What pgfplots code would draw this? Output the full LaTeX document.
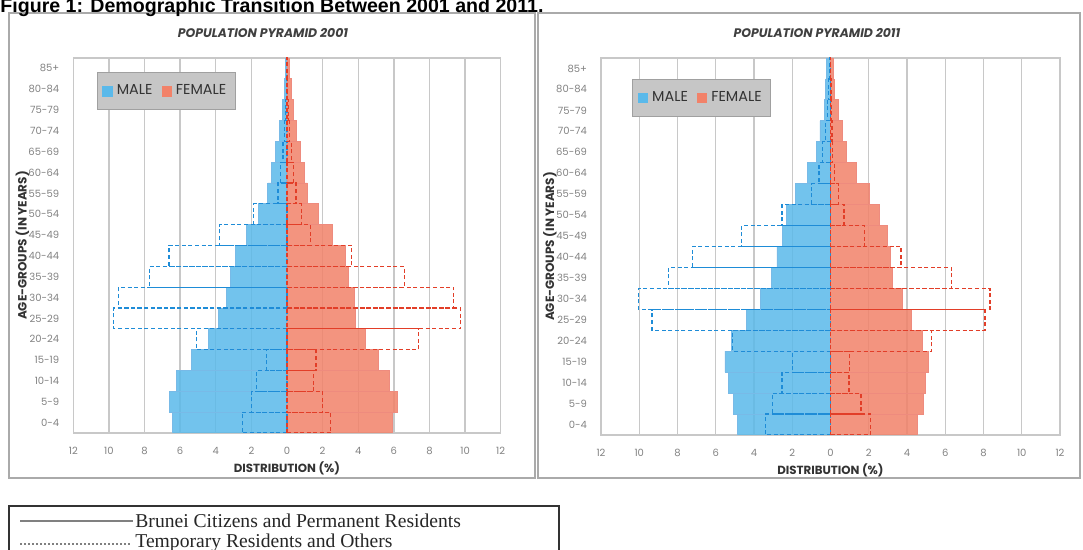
\documentclass[border=0pt]{standalone}
\usepackage{fontspec}
\usepackage{pgfplots}
\pgfplotsset{compat=1.18}
\setmainfont{Poppins}
\newfontfamily\titlefont{Liberation Sans}
\newfontfamily\seriffont{Liberation Serif}

\definecolor{malefill}{RGB}{90,185,234}
\definecolor{femfill}{RGB}{242,130,105}
\definecolor{maleline}{RGB}{30,140,215}
\definecolor{femline}{RGB}{226,62,40}
\definecolor{gridc}{RGB}{200,200,200}
\definecolor{tickc}{RGB}{130,130,130}
\definecolor{legfill}{RGB}{198,198,198}
\definecolor{legdraw}{RGB}{160,160,160}
\definecolor{panel}{RGB}{170,170,170}

\pgfplotsset{
  pyr/.style={
    scale only axis,
    xmin=-12, xmax=12, ymin=-0.5, ymax=17.5,
    xtick={-12,-10,...,12},
    xticklabels={12,10,8,6,4,2,0,2,4,6,8,10,12},
    ytick={0,...,17},
    yticklabels={0-4,5-9,10-14,15-19,20-24,25-29,30-34,35-39,40-44,45-49,50-54,55-59,60-64,65-69,70-74,75-79,80-84,85+},
    xmajorgrids, major grid style={draw=gridc, line width=0.7pt},
    axis line style={draw=gridc, line width=0.7pt},
    tick style={draw=none},
    ticklabel style={font=\fontsize{5}{6}\selectfont, text=tickc},
    yticklabel style={xshift=-3.5pt},
    xticklabel style={yshift=-3.5pt},
    xlabel={DISTRIBUTION (\%)},
    ylabel={AGE-GROUPS (IN YEARS)},
    every axis x label/.style={at={(axis description cs:0.5,0)}, anchor=center, yshift=-17.5pt, font=\bfseries\fontsize{5.9}{7}\selectfont, text=black!80},
    every axis y label/.style={at={(axis description cs:0,0.5)}, rotate=90, anchor=center, yshift=25.5pt, font=\bfseries\fontsize{6}{7}\selectfont, text=black!80},
    legend columns=2,
    legend style={fill=legfill, draw=legdraw, line width=0.6pt, inner xsep=2.5pt, inner ysep=4pt,
      font=\fontsize{7.2}{8}\selectfont, text=black!80, anchor=north west,
      /tikz/every even column/.append style={column sep=2.5pt}},
  },
  msolid/.style={xbar, bar width=1, bar shift=0pt, fill=malefill, fill opacity=0.85, draw=maleline!60, line width=0.4pt, forget plot},
  fsolid/.style={xbar, bar width=1, bar shift=0pt, fill=femfill, fill opacity=0.85, draw=femline!60, line width=0.4pt, forget plot},
  mdash/.style={xbar, bar width=1, bar shift=0pt, fill=none, draw=maleline, line width=0.6pt, dash pattern=on 2pt off 1.3pt, forget plot},
  fdash/.style={xbar, bar width=1, bar shift=0pt, fill=none, draw=femline, line width=0.6pt, dash pattern=on 2pt off 1.3pt, forget plot},
}

\begin{document}
\begin{tikzpicture}
\useasboundingbox (0,0) rectangle (541.5pt,275pt);
\clip (0,0) rectangle (541.5pt,275pt);
\fill[white] (0,0) rectangle (541.5pt,275pt);

% panels
\draw[panel, line width=1pt, fill=white] (4.5pt,36pt) rectangle (267.5pt,268.5pt);
\draw[panel, line width=1pt, fill=white] (269pt,36pt) rectangle (540pt,268.5pt);

% figure title (top cut off as in the reference)
\node[anchor=base west, inner sep=0pt, font=\titlefont\bfseries\fontsize{9.8}{11}\selectfont] at (0pt,268.8pt)
  {Figure 1: Demographic Transition Between 2001 and 2011.};

% panel titles
\node[font=\bfseries\itshape\fontsize{6.2}{7}\selectfont, text=black!75] at (131.5pt,258.5pt) {POPULATION PYRAMID 2001};
\node[font=\bfseries\itshape\fontsize{6.2}{7}\selectfont, text=black!75] at (408.5pt,258.5pt) {POPULATION PYRAMID 2011};

% ---------------- 2001 ----------------
\begin{axis}[pyr, at={(36.65pt,58.5pt)}, anchor=south west, width=213.7pt, height=187.5pt,
  legend style={at={(rel axis cs:0.055,0.962)}}]
\addplot[msolid] coordinates {(-6.44,0) (-6.6,1) (-6.2,2) (-5.35,3) (-4.43,4) (-3.87,5) (-3.4,6) (-3.17,7) (-2.89,8) (-2.3,9) (-1.58,10) (-1.08,11) (-0.86,12) (-0.64,13) (-0.42,14) (-0.26,15) (-0.16,16) (-0.1,17)};
\addplot[fsolid] coordinates {(5.9,0) (6.18,1) (5.77,2) (5.15,3) (4.4,4) (3.83,5) (3.77,6) (3.46,7) (3.27,8) (2.55,9) (1.77,10) (1.15,11) (0.98,12) (0.75,13) (0.55,14) (0.38,15) (0.22,16) (0.13,17)};
\addplot[mdash] coordinates {(-2.52,0) (-1.99,1) (-1.71,2) (-1.14,3) (-5.09,4) (-9.73,5) (-9.45,6) (-7.72,7) (-6.63,8) (-3.77,9) (-1.86,10) (-0.5,11) (-0.35,12) (-0.22,13) (-0.14,14) (-0.09,15) (-0.05,16) (-0.03,17)};
\addplot[fdash] coordinates {(2.46,0) (2.0,1) (1.48,2) (1.63,3) (7.4,4) (9.75,5) (9.37,6) (6.59,7) (3.64,8) (1.3,9) (0.8,10) (0.5,11) (0.35,12) (0.25,13) (0.15,14) (0.1,15) (0.05,16) (0.03,17)};
\addlegendimage{legend image code/.code={\fill[malefill] (0pt,-2.3pt) rectangle (4.6pt,2.3pt);}}
\addlegendentry{MALE}
\addlegendimage{legend image code/.code={\fill[femfill] (0pt,-2.3pt) rectangle (4.6pt,2.3pt);}}
\addlegendentry{FEMALE}
\end{axis}

% ---------------- 2011 ----------------
\begin{axis}[pyr, at={(300.5pt,57.5pt)}, anchor=south west, width=229.5pt, height=188.5pt,
  legend style={at={(rel axis cs:0.068,0.944)}}]
\addplot[msolid] coordinates {(-4.85,0) (-5.08,1) (-5.34,2) (-5.52,3) (-5.17,4) (-4.38,5) (-3.67,6) (-3.1,7) (-2.8,8) (-2.53,9) (-2.32,10) (-1.85,11) (-1.2,12) (-0.72,13) (-0.55,14) (-0.34,15) (-0.25,16) (-0.2,17)};
\addplot[fsolid] coordinates {(4.52,0) (4.87,1) (4.97,2) (5.1,3) (4.83,4) (4.22,5) (3.75,6) (3.22,7) (3.14,8) (2.97,9) (2.58,10) (2.03,11) (1.38,12) (0.85,13) (0.6,14) (0.41,15) (0.18,16) (0.14,17)};
\addplot[mdash] coordinates {(-3.41,0) (-3.03,1) (-2.54,2) (-1.97,3) (-5.11,4) (-9.33,5) (-10.04,6) (-8.45,7) (-7.22,8) (-4.64,9) (-2.54,10) (-1.0,11) (-0.6,12) (-0.4,13) (-0.25,14) (-0.15,15) (-0.1,16) (-0.05,17)};
\addplot[fdash] coordinates {(2.08,0) (1.59,1) (0.97,2) (1.0,3) (5.27,4) (8.08,5) (8.34,6) (6.32,7) (3.69,8) (1.76,9) (0.71,10) (0.4,11) (0.2,12) (0.12,13) (0.08,14) (0.05,15) (0.03,16) (0.02,17)};
\addlegendimage{legend image code/.code={\fill[malefill] (0pt,-2.3pt) rectangle (4.6pt,2.3pt);}}
\addlegendentry{MALE}
\addlegendimage{legend image code/.code={\fill[femfill] (0pt,-2.3pt) rectangle (4.6pt,2.3pt);}}
\addlegendentry{FEMALE}
\end{axis}

% bottom legend box
\draw[black!80, line width=0.7pt] (4.5pt,-5pt) rectangle (279.5pt,22pt);
\draw[black!50, line width=0.6pt] (10pt,14.5pt) -- (66.5pt,14.5pt);
\node[anchor=base west, inner sep=0pt, font=\seriffont\fontsize{9.8}{11}\selectfont, text=black!85] at (67.5pt,11.3pt) {Brunei Citizens and Permanent Residents};
\draw[black!50, line width=0.6pt, dash pattern=on 1.2pt off 0.8pt] (10pt,3pt) -- (65pt,3pt);
\node[anchor=base west, inner sep=0pt, font=\seriffont\fontsize{9.8}{11}\selectfont, text=black!85] at (67.5pt,1pt) {Temporary Residents and Others};
\end{tikzpicture}
\end{document}
